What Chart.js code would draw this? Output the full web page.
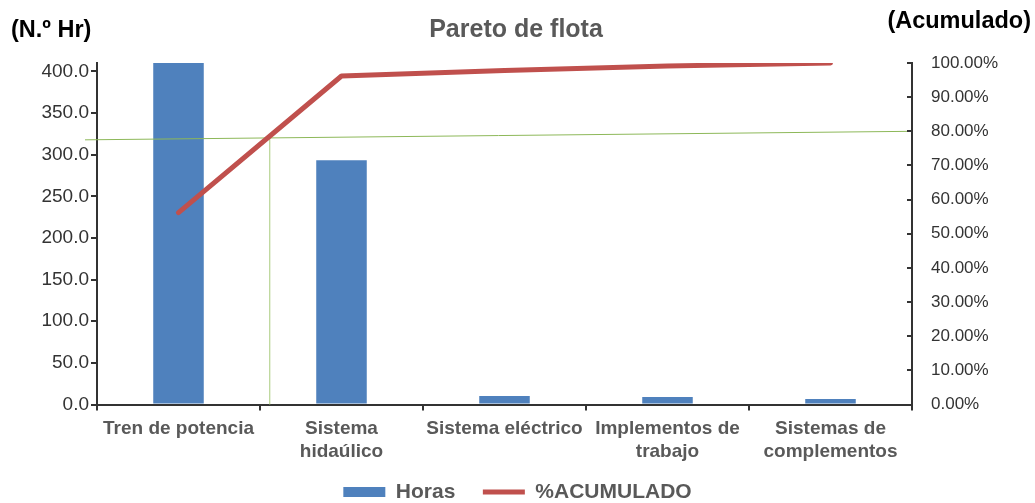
<!DOCTYPE html>
<html><head><meta charset="utf-8">
<script src="https://cdn.jsdelivr.net/npm/chart.js@4"></script>
<style>html,body{margin:0;padding:0;background:#fff}#wrap{width:1035px;height:503px;position:relative}</style>
</head><body><div id="wrap"><canvas id="c"></canvas></div>
<script>
const categories = [['Tren de potencia'], ['Sistema', 'hidaúlico'], ['Sistema eléctrico'], ['Implementos de', 'trabajo'], ['Sistemas de', 'complementos']];
const horas = [410, 293.2, 10.3, 9.1, 6.7];
const acumulado = [56.2, 96.2, 97.8, 99.1, 100];
const leftTicks = [0, 50, 100, 150, 200, 250, 300, 350, 400];
const rightTicks = [0, 10, 20, 30, 40, 50, 60, 70, 80, 90, 100];
const umbral = [77.5, 80];      // green reference line (% at left end, % at right end)
const cruce = 0.56;             // category position where the green vertical marker stands

const FONT = "'Liberation Sans', Arial, sans-serif";
const AXIS = '#333333';

const textPlugin = {
  id: 'texts',
  afterDraw(chart) {
    const ctx = chart.ctx;
    ctx.save();
    ctx.textBaseline = 'middle';
    ctx.fillStyle = '#595959';
    ctx.font = "bold 25px " + FONT;
    ctx.textAlign = 'center';
    ctx.fillText('Pareto de flota', 516, 30);
    ctx.fillStyle = '#000';
    ctx.font = "bold 23.5px " + FONT;
    ctx.textAlign = 'left';
    ctx.fillText('(N.º Hr)', 11, 31);
    ctx.textAlign = 'right';
    ctx.fillText('(Acumulado)', 1031, 22);
    // inward tick marks of the right axis
    const y1 = chart.scales.y1;
    ctx.strokeStyle = AXIS;
    ctx.lineWidth = 2;
    y1.ticks.forEach(t => {
      const py = Math.round(y1.getPixelForValue(t.value));
      ctx.beginPath();
      ctx.moveTo(y1.left - 5, py);
      ctx.lineTo(y1.left, py);
      ctx.stroke();
    });
    ctx.restore();
  }
};

const refPlugin = {
  id: 'refline',
  afterDatasetDraw(chart, args) {
    if (args.index !== 0) return;
    const ctx = chart.ctx, x = chart.scales.x, y1 = chart.scales.y1, a = chart.chartArea;
    const yl = y1.getPixelForValue(umbral[0]);
    const yr = y1.getPixelForValue(umbral[1]);
    const xl = a.left - 12, xr = a.right;
    ctx.save();
    ctx.strokeStyle = '#8DB859';
    ctx.lineWidth = 1;
    ctx.beginPath();
    ctx.moveTo(xl, yl);
    ctx.lineTo(xr, yr);
    ctx.stroke();
    const xv = x.getPixelForValue(cruce);
    const yv = yl + (yr - yl) * (xv - xl) / (xr - xl);
    ctx.strokeStyle = '#A9CC7E';
    ctx.beginPath();
    ctx.moveTo(xv, yv);
    ctx.lineTo(xv, a.bottom);
    ctx.stroke();
    ctx.restore();
  }
};

new Chart(document.getElementById('c'), {
  data: {
    labels: categories,
    datasets: [
      {
        type: 'bar', label: 'Horas', data: horas, yAxisID: 'y', order: 1,
        backgroundColor: '#4F81BD', borderWidth: 0,
        categoryPercentage: 1, barPercentage: 0.31
      },
      {
        type: 'line', label: '%ACUMULADO', data: acumulado, yAxisID: 'y1', order: 0,
        borderColor: '#C0504D', backgroundColor: '#C0504D', borderWidth: 5,
        pointRadius: 0, tension: 0, borderCapStyle: 'round', borderJoinStyle: 'round'
      }
    ]
  },
  options: {
    responsive: true, maintainAspectRatio: false, animation: false,
    layout: { padding: { top: 63, left: 0, right: 0, bottom: -9.5 } },
    plugins: {
      tooltip: { enabled: false },
      title: { display: false },
      legend: {
        position: 'bottom',
        labels: {
          usePointStyle: true, pointStyleWidth: 42, boxHeight: 10, padding: 10,
          color: '#595959', font: { family: FONT, size: 21, weight: 'bold' },
          generateLabels(chart) {
            return chart.data.datasets.map((d, i) => ({
              text: d.type === 'line' ? d.label : d.label + '   ', datasetIndex: i,
              fillStyle: d.backgroundColor, strokeStyle: d.borderColor || d.backgroundColor,
              lineWidth: d.type === 'line' ? 5 : 0,
              pointStyle: d.type === 'line' ? 'line' : 'rect',
              fontColor: '#595959', hidden: false
            }));
          }
        }
      }
    },
    scales: {
      x: {
        offset: true,
        grid: { display: true, drawOnChartArea: false, drawTicks: true, tickLength: 6, offset: true, color: AXIS, lineWidth: 2 },
        border: { display: true, color: AXIS, width: 2 },
        ticks: { color: '#595959', font: { family: FONT, size: 19, weight: 'bold' }, padding: 7, maxRotation: 0, autoSkip: false },
        afterFit(s) { s.height = 67; }
      },
      y: {
        position: 'left', min: 0, max: 410,
        grid: { display: true, drawOnChartArea: false, drawTicks: true, tickLength: 6, color: AXIS, lineWidth: 2 },
        border: { display: true, color: AXIS, width: 2 },
        ticks: { color: AXIS, font: { family: FONT, size: 19 }, padding: 2, callback: v => Number(v).toFixed(1) },
        afterBuildTicks(s) { s.ticks = leftTicks.map(v => ({ value: v })); },
        afterFit(s) { s.width = 97; }
      },
      y1: {
        position: 'right', min: 0, max: 100,
        grid: { display: false, drawOnChartArea: false, drawTicks: false },
        border: { display: true, color: AXIS, width: 2 },
        ticks: { color: AXIS, font: { family: FONT, size: 17 }, padding: 19, callback: v => Number(v).toFixed(2) + '%' },
        afterBuildTicks(s) { s.ticks = rightTicks.map(v => ({ value: v })); },
        afterFit(s) { s.width = 123; }
      }
    }
  },
  plugins: [refPlugin, textPlugin]
});
</script>
</body></html>
